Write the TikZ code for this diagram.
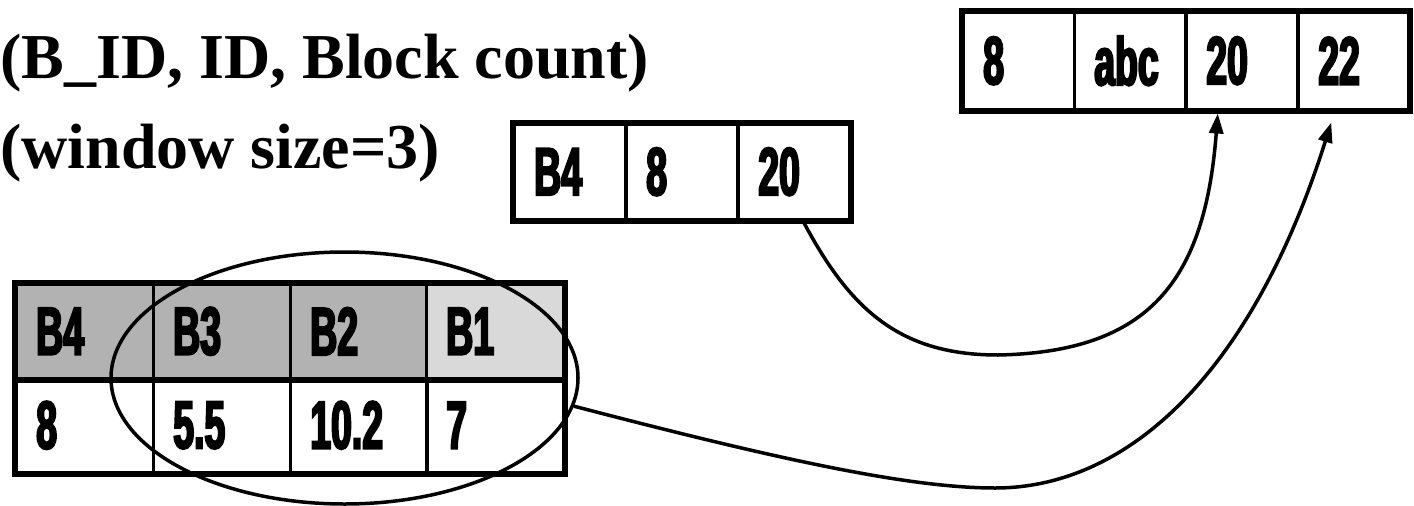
\documentclass[tikz,border=0pt]{standalone}
\usepackage{fontspec}
\setmainfont{Liberation Serif}
\newfontfamily\cellfont{Liberation Sans Bold}[FakeStretch=0.55,FakeBold=3]
\usetikzlibrary{shapes.geometric,arrows.meta}
\tikzset{
  cellbase/.style={draw, line width=2.5pt, anchor=north west, inner xsep=20pt, inner ysep=0pt,
    align=left, font=\cellfont\fontsize{68}{68}\selectfont},
  wcell/.style={cellbase, text width=97pt, minimum height=94pt},
  ncell/.style={cellbase, text width=71pt, minimum height=95pt},
  hdark/.style={fill=gray!60},
  hlight/.style={fill=gray!30},
  title/.style={anchor=base west, inner sep=0pt, font=\bfseries\fontsize{64}{64}\selectfont},
  conn/.style={line width=3.5pt, -{Triangle[length=20pt,width=14pt]}},
}
\begin{document}
\begin{tikzpicture}[x=1pt,y=-1pt]
\useasboundingbox (0,0) rectangle (1414,506);
% titles
\node[title] (t1) at (0,78) {(B\_ID, ID, Block count)};
\node[title] (t2) at (0,168) {(window size=3)};
% bottom table
\node[wcell,hdark] (h4) at (15,283) {B4};
\node[wcell,hdark] (h3) at (152,283) {B3};
\node[wcell,hdark] (h2) at (289,283) {B2};
\node[wcell,hlight] (h1) at (425,283) {B1};
\node[wcell] (v4) at (15,377) {8};
\node[wcell] (v3) at (152,377) {5.5};
\node[wcell] (v2) at (289,377) {10.2};
\node[wcell] (v1) at (425,377) {7};
\draw[line width=6pt] (h4.north west) rectangle (v1.south east);
\draw[line width=6pt] (h4.south west) -- (h1.south east);
% window ellipse
\node[ellipse, draw, line width=3.5pt, minimum width=467pt, minimum height=252pt, inner sep=0pt] (win) at (344.5,378) {};
% middle box
\node[ncell] (m1) at (513,123) {B4};
\node[ncell] (m2) at (625,123) {8};
\node[ncell] (m3) at (737,123) {20};
\draw[line width=6pt] (m1.north west) rectangle (m3.south east);
% top box
\node[ncell,minimum height=97pt] (r1) at (962,11) {8};
\node[ncell,minimum height=97pt] (r2) at (1073,11) {abc};
\node[ncell,minimum height=97pt] (r3) at (1185,11) {20};
\node[ncell,minimum height=97pt,text width=70pt] (r4) at (1297,11) {22};
\draw[line width=6pt] (r1.north west) rectangle (r4.south east);
% connectors
\draw[conn] ([xshift=9pt]m3.south) .. controls (850,310) and (900,355) .. (998,355)
   .. controls (1150,352) and (1205,280) .. ([xshift=-24pt,yshift=-3pt]r3.south);
\draw[conn] (win.-7) .. controls (780,460) and (910,488) .. (995,488)
   .. controls (1130,488) and (1253,370) .. ([xshift=-22pt,yshift=-12pt]r4.south);
\end{tikzpicture}
\end{document}
